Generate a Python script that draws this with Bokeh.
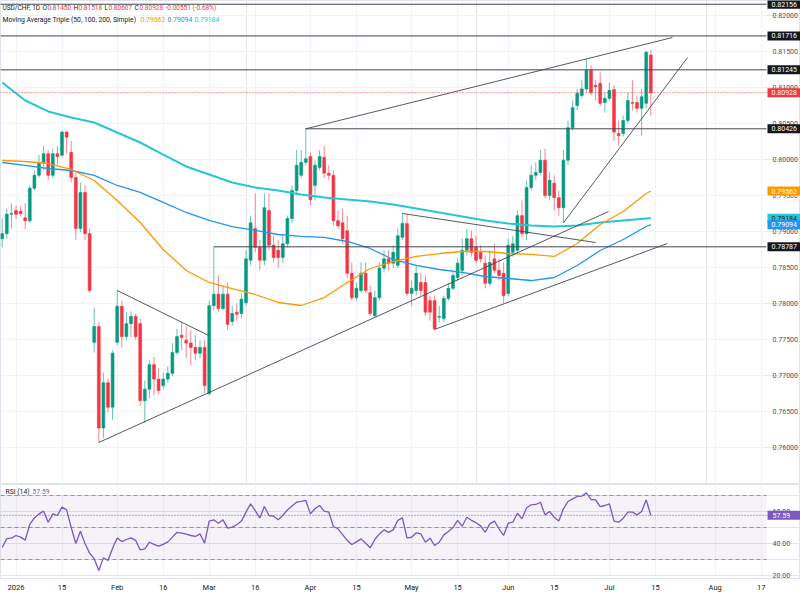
from bokeh.plotting import figure
from bokeh.models import (Range1d, FixedTicker, Label, BoxAnnotation, ColumnDataSource, Grid)
from bokeh.core.properties import value
from bokeh.layouts import column
from bokeh.embed import file_html
from bokeh.resources import INLINE

# ---------------- data ----------------
bar_index = list(range(-3, 139))  # weekday index, 0 = 1 Jan 2026

opens = [0.7890, 0.7897, 0.7924, 0.7929, 0.7928, 0.7919, 0.7915, 0.7960, 0.7978, 0.7996,
         0.8008, 0.7978, 0.8008, 0.8006, 0.8038, 0.8010, 0.7975, 0.7904, 0.7954, 0.7897,
         0.7746, 0.7768, 0.7627, 0.7690, 0.7656, 0.7746, 0.7796, 0.7754, 0.7772, 0.7782,
         0.7772, 0.7665, 0.7681, 0.7715, 0.7695, 0.7686, 0.7695, 0.7703, 0.7732, 0.7756,
         0.7749, 0.7745, 0.7739, 0.7731, 0.7739, 0.7675, 0.7797, 0.7813, 0.7793, 0.7813,
         0.7775, 0.7788, 0.7786, 0.7801, 0.7860, 0.7904, 0.7878, 0.7860, 0.7929, 0.7881,
         0.7874, 0.7864, 0.7883, 0.7918, 0.7957, 0.7978, 0.7996, 0.8004, 0.7964, 0.7989,
         0.8003, 0.7981, 0.7978, 0.7915, 0.7912, 0.7901, 0.7842, 0.7808, 0.7818, 0.7842,
         0.7815, 0.7783, 0.7808, 0.7849, 0.7862, 0.7856, 0.7853, 0.7892, 0.7911, 0.7814,
         0.7818, 0.7829, 0.7829, 0.7804, 0.7804, 0.7781, 0.7779, 0.7807, 0.7821, 0.7836,
         0.7846, 0.7874, 0.7890, 0.7878, 0.7871, 0.7856, 0.7828, 0.7862, 0.7846, 0.7842,
         0.7814, 0.7871, 0.7874, 0.7922, 0.7897, 0.7961, 0.7978, 0.7982, 0.7999, 0.7950,
         0.7967, 0.7947, 0.7933, 0.7999, 0.8044, 0.8075, 0.8089, 0.8098, 0.8124, 0.8103,
         0.8106, 0.8079, 0.8085, 0.8097, 0.8036, 0.8036, 0.8054, 0.8079, 0.8079, 0.8071,
         0.8078, 0.81450]
highs = [0.7918, 0.7932, 0.7939, 0.7936, 0.7935, 0.7939, 0.7964, 0.7985, 0.8006, 0.8019,
         0.8013, 0.8015, 0.8019, 0.8040, 0.8040, 0.8026, 0.7982, 0.7968, 0.7964, 0.7904,
         0.7794, 0.7774, 0.7704, 0.7696, 0.7735, 0.7818, 0.7804, 0.7788, 0.7789, 0.7786,
         0.7779, 0.7693, 0.7721, 0.7726, 0.7710, 0.7704, 0.7713, 0.7745, 0.7765, 0.7774,
         0.7768, 0.7763, 0.7756, 0.7749, 0.7749, 0.7804, 0.7879, 0.7839, 0.7825, 0.7829,
         0.7797, 0.7800, 0.7815, 0.7874, 0.7922, 0.7953, 0.7888, 0.7953, 0.7953, 0.7894,
         0.7888, 0.7894, 0.7922, 0.7964, 0.8013, 0.8013, 0.8044, 0.8010, 0.7999, 0.8013,
         0.8019, 0.7992, 0.7985, 0.7929, 0.7932, 0.7922, 0.7857, 0.7829, 0.7857, 0.7857,
         0.7825, 0.7818, 0.7857, 0.7874, 0.7874, 0.7881, 0.7904, 0.7926, 0.7924, 0.7832,
         0.7853, 0.7843, 0.7839, 0.7811, 0.7811, 0.7797, 0.7811, 0.7829, 0.7846, 0.7862,
         0.7890, 0.7904, 0.7901, 0.7894, 0.7881, 0.7867, 0.7874, 0.7883, 0.7862, 0.7857,
         0.7890, 0.7894, 0.7929, 0.7943, 0.7971, 0.7992, 0.7996, 0.8013, 0.8015, 0.7982,
         0.7978, 0.7957, 0.8013, 0.8054, 0.8082, 0.8098, 0.8110, 0.8140, 0.8131, 0.8110,
         0.8121, 0.8093, 0.8107, 0.8103, 0.8054, 0.8061, 0.8093, 0.8110, 0.8089, 0.8098,
         0.8151, 0.81518]
lows = [0.7878, 0.7890, 0.7904, 0.7917, 0.7921, 0.7903, 0.7912, 0.7957, 0.7975, 0.7985,
        0.7971, 0.7974, 0.7992, 0.8003, 0.8008, 0.7968, 0.7888, 0.7899, 0.7888, 0.7815,
        0.7732, 0.7607, 0.7613, 0.7649, 0.7638, 0.7742, 0.7739, 0.7749, 0.7753, 0.7750,
        0.7658, 0.7634, 0.7668, 0.7672, 0.7674, 0.7681, 0.7690, 0.7699, 0.7728, 0.7735,
        0.7724, 0.7714, 0.7721, 0.7724, 0.7676, 0.7672, 0.7790, 0.7788, 0.7790, 0.7763,
        0.7769, 0.7776, 0.7779, 0.7797, 0.7853, 0.7871, 0.7846, 0.7853, 0.7874, 0.7857,
        0.7849, 0.7857, 0.7878, 0.7912, 0.7950, 0.7974, 0.7992, 0.7936, 0.7943, 0.7985,
        0.7974, 0.7971, 0.7908, 0.7904, 0.7883, 0.7835, 0.7804, 0.7804, 0.7815, 0.7815,
        0.7783, 0.7781, 0.7804, 0.7843, 0.7846, 0.7849, 0.7849, 0.7888, 0.7810, 0.7797,
        0.7811, 0.7811, 0.7783, 0.7776, 0.7763, 0.7774, 0.7774, 0.7804, 0.7818, 0.7832,
        0.7839, 0.7867, 0.7865, 0.7856, 0.7857, 0.7821, 0.7824, 0.7842, 0.7832, 0.7800,
        0.7810, 0.7865, 0.7869, 0.7892, 0.7888, 0.7957, 0.7971, 0.7978, 0.7946, 0.7943,
        0.7929, 0.7922, 0.7912, 0.7992, 0.8040, 0.8068, 0.8085, 0.8093, 0.8089, 0.8082,
        0.8074, 0.8065, 0.8082, 0.8026, 0.8019, 0.8032, 0.8050, 0.8068, 0.8065, 0.8033,
        0.8071, 0.80607]
closes = [0.7897, 0.7924, 0.7925, 0.7924, 0.7925, 0.7915, 0.7960, 0.7978, 0.7996, 0.8008,
          0.7978, 0.8008, 0.8004, 0.8038, 0.8031, 0.7975, 0.7904, 0.7954, 0.7897, 0.7818,
          0.7768, 0.7627, 0.7690, 0.7656, 0.7731, 0.7796, 0.7754, 0.7772, 0.7782, 0.7754,
          0.7665, 0.7681, 0.7715, 0.7695, 0.7679, 0.7695, 0.7703, 0.7732, 0.7754, 0.7753,
          0.7745, 0.7739, 0.7731, 0.7739, 0.7686, 0.7797, 0.7813, 0.7793, 0.7813, 0.7771,
          0.7786, 0.7785, 0.7806, 0.7862, 0.7912, 0.7878, 0.7860, 0.7933, 0.7881, 0.7864,
          0.7864, 0.7883, 0.7918, 0.7957, 0.7992, 0.7996, 0.8001, 0.7944, 0.7992, 0.8004,
          0.7981, 0.7978, 0.7915, 0.7908, 0.7890, 0.7842, 0.7808, 0.7821, 0.7842, 0.7818,
          0.7786, 0.7808, 0.7849, 0.7862, 0.7856, 0.7871, 0.7894, 0.7911, 0.7814, 0.7821,
          0.7842, 0.7818, 0.7788, 0.7788, 0.7765, 0.7782, 0.7807, 0.7821, 0.7839, 0.7856,
          0.7874, 0.7890, 0.7871, 0.7860, 0.7862, 0.7828, 0.7857, 0.7846, 0.7839, 0.7811,
          0.7881, 0.7883, 0.7922, 0.7897, 0.7961, 0.7978, 0.7982, 0.7999, 0.7950, 0.7971,
          0.7947, 0.7933, 0.7999, 0.8044, 0.8072, 0.8092, 0.8098, 0.8124, 0.8093, 0.8101,
          0.8078, 0.8085, 0.8096, 0.8038, 0.8033, 0.8054, 0.8082, 0.8078, 0.8071, 0.8087,
          0.8149, 0.80928]

# moving averages (bar index, value)
ma_index = [-3, 2, 7, 12, 17, 22, 27, 32, 37, 42, 47, 52, 57, 62, 67, 72, 77, 82, 87, 92,
            97, 102, 107, 112, 117, 122, 127, 132, 137, 138]
ma50 = [0.79986, 0.79972, 0.79944, 0.79861, 0.79708, 0.79431, 0.79125, 0.78750, 0.78458, 0.78292,
        0.78208, 0.78125, 0.78014, 0.77972, 0.78083, 0.78292, 0.78486, 0.78583, 0.78653, 0.78694,
        0.78722, 0.78722, 0.78694, 0.78681, 0.78653, 0.78833, 0.79097, 0.79278, 0.79528, 0.79562]
ma100 = [0.79958, 0.79917, 0.79875, 0.79847, 0.79778, 0.79639, 0.79542, 0.79403, 0.79264, 0.79153,
         0.79069, 0.79014, 0.78958, 0.78931, 0.78917, 0.78861, 0.78764, 0.78611, 0.78528, 0.78472,
         0.78431, 0.78375, 0.78347, 0.78319, 0.78361, 0.78528, 0.78736, 0.78889, 0.79069, 0.79094]
ma200 = [0.81069, 0.80819, 0.80667, 0.80583, 0.80514, 0.80375, 0.80236, 0.80069, 0.79903, 0.79792,
         0.79681, 0.79611, 0.79569, 0.79514, 0.79472, 0.79444, 0.79417, 0.79375, 0.79319, 0.79264,
         0.79208, 0.79153, 0.79111, 0.79083, 0.79069, 0.79083, 0.79125, 0.79153, 0.79181, 0.79184]

rsi = [37.5, 43, 43.3, 45, 44, 42, 52, 56, 58.5, 60.2,
       53.3, 58.5, 57.5, 62.7, 61, 50, 40, 47.7, 40, 34,
       30.5, 23.1, 31, 29.4, 37, 43.5, 41.2, 42.5, 43.5, 42,
       36, 36.7, 40.8, 39.5, 38.3, 39.5, 41, 44, 47, 46.5,
       45.8, 45, 44.4, 46, 40.2, 54, 54.8, 52.7, 54.8, 49.6,
       50.2, 51.7, 54, 59.6, 64.8, 60.6, 56, 63.1, 57.5, 57.1,
       54.8, 57.5, 61, 63.5, 65.8, 66.3, 66.9, 58.5, 61.7, 63.75,
       60.2, 59.6, 50.6, 49.2, 45.5, 41.9, 39.4, 41, 42.9, 40.2,
       37.3, 42.5, 46, 48.5, 47, 48.5, 54.5, 56, 43.5, 43.9,
       46.7, 46, 40.8, 43.3, 38.75, 40.8, 45.4, 47.5, 50, 54.4,
       50.8, 56.4, 54.5, 53, 51, 47, 52.3, 54, 49.2, 45,
       52.7, 53.3, 58.9, 55.4, 62.3, 64.2, 64.4, 65.8, 57.9, 60,
       56.4, 54, 61.7, 66.25, 67.9, 69.4, 69.6, 71.7, 67.5, 67.3,
       63.1, 63.75, 64.8, 54, 53.3, 55.8, 59.6, 59.6, 57.9, 60,
       67.3, 57.59]

# drawn levels / trendlines (bar index, price)
level_prices = [0.82156, 0.81716, 0.81245, 0.80426, 0.78787]
level_start = [-3.4, -3.4, -3.4, 63, 43]
trend_x0 = [63, 18, 22, 84, 91, 119]
trend_y0 = [0.80426, 0.7607, 0.7818, 0.7925, 0.7764, 0.7912]
trend_x1 = [142.7, 128.8, 41.9, 126, 141.6, 146]
trend_y1 = [0.81694, 0.79277, 0.77555, 0.78847, 0.78833, 0.81417]

last_price = 0.80928
rsi_last = 57.59

date_ticks = [0, 10, 22, 32, 42, 52, 64, 74, 86, 96, 107, 117, 129, 139, 152, 162]
date_labels = ["2026", "15", "Feb", "16", "Mar", "16", "Apr", "15", "May", "15",
               "Jun", "15", "Jul", "15", "Aug", "17"]
price_ticks = [0.760, 0.765, 0.770, 0.775, 0.780, 0.785, 0.790, 0.795, 0.800, 0.805,
               0.810, 0.815, 0.820]
rsi_ticks = [20, 40, 60]

# ---------------- style ----------------
UP, DOWN = "#089981", "#F23645"
FONT = "Roboto"
GRID = "#F0F3FA"
TXT = "#131722"
AXT = "#50535E"
X_LEFT = -3.37     # left edge of the chart
X_RIGHT = 163.15   # where the price scale starts
X_FULL = 170.54    # right edge of the canvas

main = figure(width=800, height=484, x_range=Range1d(X_LEFT, X_FULL),
              y_range=Range1d(0.75500, 0.82208), output_backend="svg",
              toolbar_location=None, x_axis_location=None, y_axis_location=None,
              min_border_left=0, min_border_right=0, min_border_top=0, min_border_bottom=1)
main.outline_line_color = "#E0E3EB"
main.background_fill_color = "white"
main.border_fill_color = "white"
main.add_layout(Grid(dimension=0, ticker=FixedTicker(ticks=date_ticks), grid_line_color=GRID))
n = len(price_ticks)
main.segment(x0=[X_LEFT] * n, x1=[X_RIGHT] * n, y0=price_ticks, y1=price_ticks,
             line_color=GRID, line_width=1)
# price scale labels
main.text(x=[X_RIGHT] * n, y=price_ticks, text=[f"{p:.5f}" for p in price_ticks],
          x_offset=6, text_font=value(FONT), text_font_size="7px", text_color=AXT,
          text_baseline="middle", text_align="left")

# candles
colors = [UP if c >= o else DOWN for o, c in zip(opens, closes)]
src = ColumnDataSource(dict(x=bar_index, o=opens, h=highs, l=lows, c=closes,
                            top=[max(o, c) for o, c in zip(opens, closes)],
                            bot=[min(o, c) for o, c in zip(opens, closes)],
                            col=colors))
main.segment(x0="x", y0="l", x1="x", y1="h", source=src, line_color="col",
             line_width=1, line_alpha=0.6)
main.vbar(x="x", width=0.62, top="top", bottom="bot", source=src, fill_color="col",
          line_color="col", line_width=0.6)

# moving averages
main.line(ma_index, ma200, line_color="#26C6DA", line_width=2)
main.line(ma_index, ma100, line_color="#2196F3", line_width=1.3)
main.line(ma_index, ma50, line_color="#FF9800", line_width=1.3)

# drawn horizontal levels and trendlines
main.segment(x0=level_start, y0=level_prices, x1=[X_RIGHT] * len(level_prices),
             y1=level_prices, line_color="#434651", line_width=1)
main.segment(x0=trend_x0, y0=trend_y0, x1=trend_x1, y1=trend_y1,
             line_color="#434651", line_width=0.9)
main.segment(x0=[X_LEFT], y0=[last_price], x1=[X_RIGHT], y1=[last_price],
             line_color=DOWN, line_dash="1 2", line_width=1)

# right-axis price boxes
boxes = [(p, "#131722", "white") for p in level_prices]
boxes += [(last_price, DOWN, "white"), (ma50[-1], "#FF9800", "white"),
          (ma200[-1], "#26C6DA", "#131722"), (ma100[-1], "#2196F3", "white")]
for price, bg, fg in boxes:
    main.add_layout(Label(x=X_RIGHT, y=price, text=f"{price:.5f}", x_offset=1,
                          text_font=FONT, text_font_size="7px", text_color=fg,
                          text_align="left", text_baseline="middle",
                          background_fill_color=bg,
                          padding=dict(left=4, right=6, top=2, bottom=2)))

# header
hdr = [("USD/CHF, 1D", 2, TXT), ("O", 42, TXT), ("0.81450", 47, DOWN),
       ("H", 73, TXT), ("0.81518", 78, DOWN), ("L", 104, TXT),
       ("0.80607", 108, DOWN), ("C", 134, TXT), ("0.80928", 139, DOWN),
       ("-0.00551 (-0.68%)", 165, DOWN)]
for t, x, col in hdr:
    main.add_layout(Label(x=x, y=476, x_units="screen", y_units="screen", text=t,
                          text_font=FONT, text_font_size="6.5px", text_color=col,
                          text_baseline="middle"))
hdr2 = [("Moving Average Triple (50, 100, 200, Simple)", 2, TXT),
        (f"{ma50[-1]:.5f}", 140, "#FF9800"), (f"{ma100[-1]:.5f}", 167, "#2196F3"),
        (f"{ma200[-1]:.5f}", 194, "#26C6DA")]
for t, x, col in hdr2:
    main.add_layout(Label(x=x, y=464, x_units="screen", y_units="screen", text=t,
                          text_font=FONT, text_font_size="6.8px", text_color=col,
                          text_baseline="middle"))

# ---------------- RSI panel ----------------
rp = figure(width=800, height=110, x_range=main.x_range, y_range=Range1d(18.125, 76.875),
            output_backend="svg", toolbar_location=None, y_axis_location=None,
            min_border_left=0, min_border_right=0, min_border_top=0, min_border_bottom=16)
rp.outline_line_color = "#E0E3EB"
rp.background_fill_color = "white"
rp.border_fill_color = "white"
dt = FixedTicker(ticks=date_ticks)
rp.xaxis.ticker = dt
rp.xgrid.ticker = dt
rp.xgrid.grid_line_color = GRID
rp.xaxis.major_label_overrides = {t: l for t, l in zip(date_ticks, date_labels)}
for ax in rp.xaxis:
    ax.major_label_text_font_size = "7.5px"
    ax.major_label_text_font = FONT
    ax.major_label_text_color = TXT
    ax.axis_line_color = None
    ax.major_tick_line_color = None
    ax.minor_tick_line_color = None
    ax.major_tick_out = 0
    ax.major_tick_in = 0
    ax.minor_tick_out = 0
    ax.major_label_standoff = 4

rp.add_layout(BoxAnnotation(left=X_LEFT, right=X_RIGHT, bottom=30, top=70,
                            fill_color="#7E57C2", fill_alpha=0.08, line_color=None))
lv = [70, 50, 30]
rp.segment(x0=[X_LEFT] * 3, x1=[X_RIGHT] * 3, y0=lv, y1=lv, line_color="#9598A1",
           line_dash="4 3", line_width=1)
rp.segment(x0=[X_LEFT], x1=[X_RIGHT], y0=[rsi_last], y1=[rsi_last], line_color="#7E57C2",
           line_dash="1 2", line_width=1)
rp.line(bar_index, rsi, line_color="#7E57C2", line_width=1.3)
rp.text(x=[X_RIGHT] * 3, y=rsi_ticks, text=[f"{v:.2f}" for v in rsi_ticks], x_offset=6,
        text_font=value(FONT), text_font_size="7px", text_color=AXT,
        text_baseline="middle", text_align="left")
rp.add_layout(Label(x=X_RIGHT, y=rsi_last, text=f"{rsi_last:.2f}", x_offset=1,
                    text_font=FONT, text_font_size="7px", text_color="white",
                    text_align="left", text_baseline="middle",
                    background_fill_color="#7E57C2",
                    padding=dict(left=5, right=10, top=2, bottom=2)))
rp.add_layout(Label(x=5, y=87, x_units="screen", y_units="screen", text="RSI (14)",
                    text_font=FONT, text_font_size="6.8px", text_color=TXT,
                    text_baseline="middle"))
rp.add_layout(Label(x=32, y=87, x_units="screen", y_units="screen", text=f"{rsi_last:.2f}",
                    text_font=FONT, text_font_size="6.8px", text_color="#7E57C2",
                    text_baseline="middle"))

layout = column(main, rp, spacing=0)
open("out.html", "w").write(file_html(layout, INLINE))
